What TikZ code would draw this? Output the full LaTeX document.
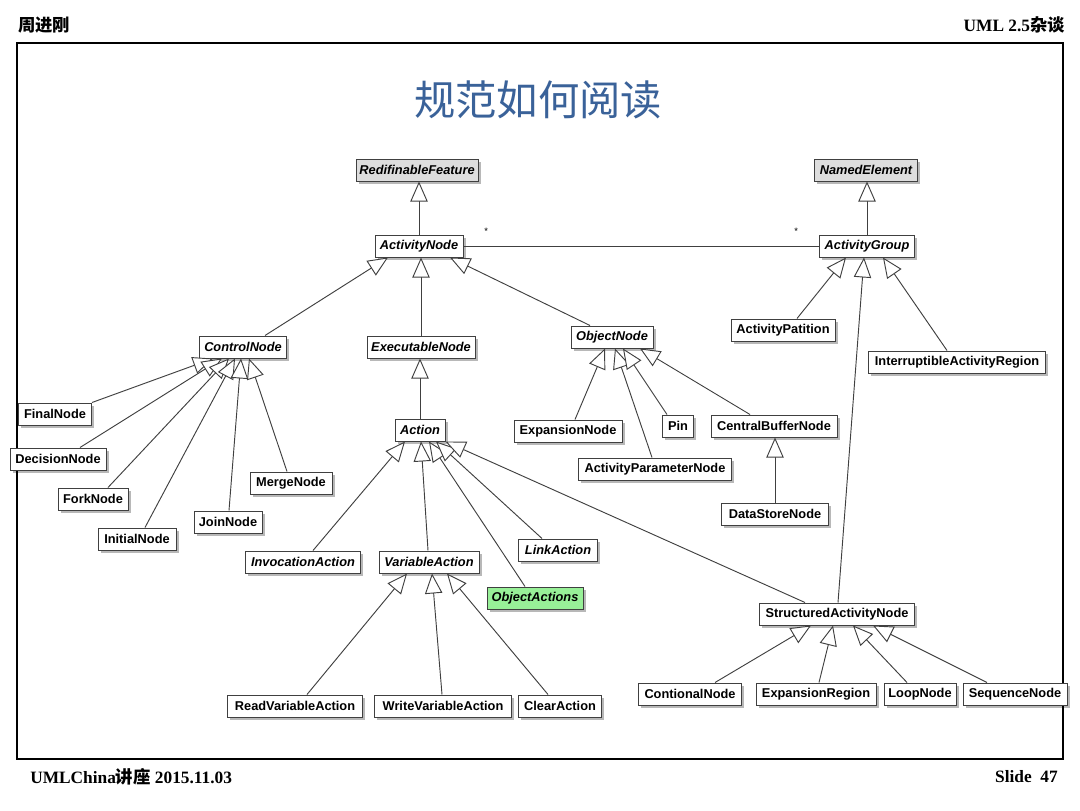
\documentclass[tikz,border=0pt]{standalone}
\usepackage{fontspec}
\setmainfont{Liberation Sans}
\newfontfamily\cjk{Noto Sans CJK SC}
\newfontfamily\hdr{Liberation Serif}
\usetikzlibrary{arrows.meta,shadows,calc}
\definecolor{titleblue}{RGB}{58,98,153}
\definecolor{absgray}{RGB}{221,221,221}
\definecolor{objgreen}{RGB}{152,240,152}
\begin{document}
\begin{tikzpicture}[x=0.75pt,y=-0.75pt,
  cls/.style={draw=black!75, line width=0.75pt, fill=white,
    font=\bfseries\fontsize{9.6}{11}\selectfont, minimum height=16.5pt,
    inner xsep=2pt, inner ysep=0pt,
    drop shadow={shadow xshift=2pt, shadow yshift=-2pt, opacity=0.28, fill=black}},
  abs/.style={cls, font=\bfseries\itshape\fontsize{9.6}{11}\selectfont},
  wd/.style={minimum width=#1*0.75pt},
  gen/.style={draw=black!75, line width=0.7pt,
    -{Triangle[fill=white, length=15pt, width=13pt, line width=0.7pt]}},
  assoc/.style={draw=black!75, line width=0.7pt},
  star/.style={font=\fontsize{7}{8}\selectfont, inner sep=0pt},
  hdrtxt/.style={font=\bfseries\fontsize{13}{15}\selectfont, inner sep=0pt}
]
\useasboundingbox (0,0) rectangle (1080,810);
\fill[white] (0,0) rectangle (1080,810);

% header / footer
\node[hdrtxt, anchor=west] (hl) at (18,25) {\cjk\bfseries 周进刚};
\node[hdrtxt, anchor=east] (hr) at (1065,25) {{\hdr\bfseries UML 2.5}{\cjk\bfseries 杂谈}};
\node[hdrtxt, anchor=west] (fl) at (30,777) {{\hdr\bfseries UMLChina}{\cjk\bfseries 讲座}{\hdr\bfseries\ 2015.11.03}};
\node[hdrtxt, anchor=east] (fr) at (1058,777) {\hdr\bfseries Slide\ \ 47};
\draw[line width=0.9pt] (17,43) rectangle (1063,759);

% title
\node[font=\cjk\fontsize{31}{35}\selectfont, text=titleblue] (title) at (538,100) {规范如何阅读};

% nodes
\node[abs, wd=122, fill=absgray] (RF) at (417,170) {RedifinableFeature};
\node[abs, wd=103, fill=absgray] (NE) at (866,170) {NamedElement};
\node[abs, wd=88] (AN) at (419,246) {ActivityNode};
\node[abs, wd=95] (AG) at (867,246) {ActivityGroup};
\node[abs, wd=87] (CN) at (243,347) {ControlNode};
\node[abs, wd=108] (EN) at (421,347) {ExecutableNode};
\node[abs, wd=82] (ON) at (612,337) {ObjectNode};
\node[cls, wd=104] (AP) at (783,330) {ActivityPatition};
\node[cls, wd=177] (IAR) at (957,362) {InterruptibleActivityRegion};
\node[cls, wd=73] (FN) at (55,414) {FinalNode};
\node[cls, wd=96] (DN) at (58,459) {DecisionNode};
\node[cls, wd=70] (FK) at (93,499) {ForkNode};
\node[cls, wd=78] (IN) at (137,539) {InitialNode};
\node[cls, wd=68] (JN) at (228,522) {JoinNode};
\node[cls, wd=82] (MN) at (291,483) {MergeNode};
\node[abs, wd=50] (AC) at (420,430) {Action};
\node[cls, wd=108] (EXN) at (568,431) {ExpansionNode};
\node[cls, wd=31] (PN) at (678,426) {Pin};
\node[cls, wd=126] (CBN) at (774,426) {CentralBufferNode};
\node[cls, wd=153] (APN) at (655,469) {ActivityParameterNode};
\node[cls, wd=107] (DSN) at (775,514) {DataStoreNode};
\node[abs, wd=115] (IA) at (303,562) {InvocationAction};
\node[abs, wd=100] (VA) at (429,562) {VariableAction};
\node[abs, wd=79] (LA) at (558,550) {LinkAction};
\node[abs, wd=96, fill=objgreen] (OA) at (535,598) {ObjectActions};
\node[cls, wd=155] (SAN) at (837,614) {StructuredActivityNode};
\node[cls, wd=103] (CDN) at (690,694) {ContionalNode};
\node[cls, wd=120] (ER) at (816,694) {ExpansionRegion};
\node[cls, wd=72] (LN) at (920,694) {LoopNode};
\node[cls, wd=104] (SN) at (1015,694) {SequenceNode};
\node[cls, wd=135] (RVA) at (295,706) {ReadVariableAction};
\node[cls, wd=137] (WVA) at (443,706) {WriteVariableAction};
\node[cls, wd=83] (CA) at (560,706) {ClearAction};

% association
\draw[assoc] (AN.east) -- (AG.west)
  node[star, pos=0.064, above=8pt] {*}
  node[star, pos=0.936, above=8pt] {*};

% generalizations
\draw[gen] (AN.north) -- (AN.north |- RF.south);
\draw[gen] (AG.north) -- (AG.north |- NE.south);
\draw[gen] ($(CN.north)+(22,0)$) -- ($(AN.south)+(-31,0)$);
\draw[gen] (EN.north) -- (EN.north |- AN.south);
\draw[gen] ($(ON.north)+(-22,0)$) -- ($(AN.south)+(31,0)$);
\draw[gen] (AC.north) -- (AC.north |- EN.south);

\draw[gen] (FN.north east) -- ($(CN.south)+(-30,0)$);
\draw[gen] ($(DN.north)+(22,0)$) -- ($(CN.south)+(-21,0)$);
\draw[gen] ($(FK.north)+(15,0)$) -- ($(CN.south)+(-14,0)$);
\draw[gen] ($(IN.north)+(8,0)$) -- ($(CN.south)+(-8,0)$);
\draw[gen] ($(JN.north)+(1,0)$) -- ($(CN.south)+(-2,0)$);
\draw[gen] ($(MN.north)+(-4,0)$) -- ($(CN.south)+(6,0)$);

\draw[gen] ($(EXN.north)+(7,0)$) -- ($(ON.south)+(-7,0)$);
\draw[gen] ($(APN.north)+(-3,0)$) -- ($(ON.south)+(3,0)$);
\draw[gen] ($(PN.north)+(-11,0)$) -- ($(ON.south)+(11,0)$);
\draw[gen] ($(CBN.north)+(-24,0)$) -- ($(ON.south)+(28,0)$);
\draw[gen] (DSN.north) -- (DSN.north |- CBN.south);

\draw[gen] ($(IA.north)+(10,0)$) -- ($(AC.south)+(-15,0)$);
\draw[gen] ($(VA.north)+(-1,0)$) -- ($(AC.south)+(1,0)$);
\draw[gen] ($(OA.north)+(-10,0)$) -- ($(AC.south)+(9,0)$);
\draw[gen] ($(LA.north)+(-16,0)$) -- ($(AC.south)+(16,0)$);
\draw[gen] ($(SAN.north)+(-32,0)$) -- (AC.south east);

\draw[gen] ($(RVA.north)+(12,0)$) -- ($(VA.south)+(-22,0)$);
\draw[gen] ($(WVA.north)+(-1,0)$) -- ($(VA.south)+(3,0)$);
\draw[gen] ($(CA.north)+(-12,0)$) -- ($(VA.south)+(18,0)$);

\draw[gen] ($(CDN.north)+(25,0)$) -- ($(SAN.south)+(-26,0)$);
\draw[gen] ($(ER.north)+(3,0)$) -- ($(SAN.south)+(-4,0)$);
\draw[gen] ($(LN.north)+(-13,0)$) -- ($(SAN.south)+(16,0)$);
\draw[gen] ($(SN.north)+(-28,0)$) -- ($(SAN.south)+(36,0)$);

\draw[gen] ($(AP.north)+(14,0)$) -- ($(AG.south)+(-21,0)$);
\draw[gen] ($(SAN.north)+(1,0)$) -- ($(AG.south)+(-3,0)$);
\draw[gen] ($(IAR.north)+(-10,0)$) -- ($(AG.south)+(16,0)$);
\end{tikzpicture}
\end{document}
